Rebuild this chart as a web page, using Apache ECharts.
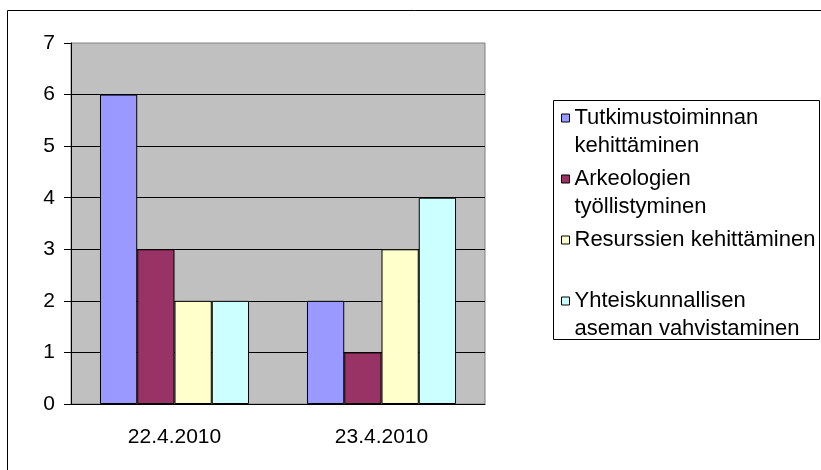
<!DOCTYPE html>
<html>
<head>
<meta charset="utf-8">
<script src="https://cdn.jsdelivr.net/npm/echarts@6/dist/echarts.min.js"></script>
<style>
  html, body { margin: 0; padding: 0; background: #fff; }
  #chart { width: 821px; height: 470px; }
</style>
</head>
<body>
<div id="chart"></div>
<script>
  // data
  var dates = ['22.4.2010', '23.4.2010'];
  var seriesNames = ['Tutkimustoiminnan kehittäminen', 'Arkeologien työllistyminen', 'Resurssien kehittäminen', 'Yhteiskunnallisen aseman vahvistaminen'];
  var legendText = ['Tutkimustoiminnan\nkehittäminen', 'Arkeologien\ntyöllistyminen', 'Resurssien kehittäminen\n ', 'Yhteiskunnallisen\naseman vahvistaminen'];
  var tutkimus = [6, 2];
  var arkeologit = [3, 1];
  var resurssit = [2, 3];
  var yhteiskunta = [2, 4];
  var colors = ['#9999FF', '#993366', '#FFFFCC', '#CCFFFF'];

  var font = 'Liberation Sans, Arial, sans-serif';
  var dom = echarts.init(document.getElementById('chart'));

  function bar(name, data) {
    return {
      name: name,
      type: 'bar',
      data: data,
      barGap: '0%',
      barCategoryGap: '28%',
      itemStyle: { borderColor: '#000', borderWidth: 1 }
    };
  }

  var option = {
    animation: false,
    color: colors,
    textStyle: { fontFamily: font },
    graphic: [
      { type: 'rect', left: 5, top: 8, shape: { width: 830, height: 480 },
        style: { fill: 'none', stroke: '#000', lineWidth: 1 }, silent: true, z: 0 },
      { type: 'rect', left: 553, top: 100, shape: { width: 266, height: 239 },
        style: { fill: '#fff', stroke: '#000', lineWidth: 1 }, silent: true, z: 1 }
    ],
    grid: {
      left: 71, top: 43, right: 336, bottom: 66,
      show: true, backgroundColor: '#C0C0C0', borderColor: '#808080', borderWidth: 1
    },
    legend: {
      orient: 'vertical',
      left: 561,
      top: 76,
      padding: 0,
      itemGap: -23,
      itemWidth: 8,
      itemHeight: 8,
      icon: 'rect',
      itemStyle: { borderColor: '#000', borderWidth: 1 },
      // blank first line keeps the swatch level with the first text line
      formatter: function (name) { return '\n' + legendText[seriesNames.indexOf(name)]; },
      textStyle: { fontFamily: font, fontSize: 22, color: '#000', lineHeight: 28 },
      z: 5
    },
    xAxis: {
      type: 'category',
      data: dates,
      axisLine: { lineStyle: { color: '#000' } },
      axisTick: { length: 7, lineStyle: { color: '#000' } },
      axisLabel: { margin: 23, fontSize: 21, color: '#000', fontFamily: font }
    },
    yAxis: {
      type: 'value',
      min: 0, max: 7, interval: 1,
      axisLine: { show: true, lineStyle: { color: '#000' } },
      axisTick: { show: true, length: 7, lineStyle: { color: '#000' } },
      axisLabel: { margin: 16, fontSize: 21, color: '#000', fontFamily: font },
      splitLine: { show: true, showMaxLine: false, lineStyle: { color: '#000' } }
    },
    series: [
      bar(seriesNames[0], tutkimus),
      bar(seriesNames[1], arkeologit),
      bar(seriesNames[2], resurssit),
      bar(seriesNames[3], yhteiskunta)
    ]
  };
  dom.setOption(option);
</script>
</body>
</html>
